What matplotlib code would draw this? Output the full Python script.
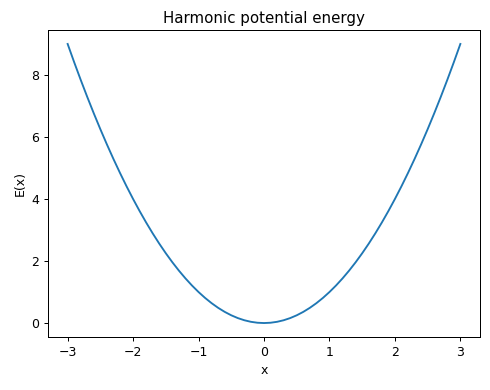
import matplotlib
matplotlib.use("Agg")
import matplotlib.pyplot as plt

x_vals = [-3.0, -2.9, -2.8, -2.7, -2.6, -2.5, -2.4, -2.3, -2.2, -2.1, -2.0,
          -1.9, -1.8, -1.7, -1.6, -1.5, -1.4, -1.3, -1.2, -1.1, -1.0,
          -0.9, -0.8, -0.7, -0.6, -0.5, -0.4, -0.3, -0.2, -0.1, 0.0,
          0.1, 0.2, 0.3, 0.4, 0.5, 0.6, 0.7, 0.8, 0.9, 1.0,
          1.1, 1.2, 1.3, 1.4, 1.5, 1.6, 1.7, 1.8, 1.9, 2.0,
          2.1, 2.2, 2.3, 2.4, 2.5, 2.6, 2.7, 2.8, 2.9, 3.0]
energy = [9.0, 8.41, 7.84, 7.29, 6.76, 6.25, 5.76, 5.29, 4.84, 4.41, 4.0,
          3.61, 3.24, 2.89, 2.56, 2.25, 1.96, 1.69, 1.44, 1.21, 1.0,
          0.81, 0.64, 0.49, 0.36, 0.25, 0.16, 0.09, 0.04, 0.01, 0.0,
          0.01, 0.04, 0.09, 0.16, 0.25, 0.36, 0.49, 0.64, 0.81, 1.0,
          1.21, 1.44, 1.69, 1.96, 2.25, 2.56, 2.89, 3.24, 3.61, 4.0,
          4.41, 4.84, 5.29, 5.76, 6.25, 6.76, 7.29, 7.84, 8.41, 9.0]

W, H = 490, 390
fig, ax = plt.subplots(figsize=(W / 90, H / 90), dpi=90)
ax.plot(x_vals, energy, color="#1f77b4", linewidth=1.5)
ax.set_title("Harmonic potential energy")
ax.set_xlabel("x")
ax.set_ylabel("E(x)")
fig.subplots_adjust(left=48 / W, right=480 / W, top=1 - 30 / H, bottom=1 - 337 / H)
fig.savefig("out.png", dpi=90)
